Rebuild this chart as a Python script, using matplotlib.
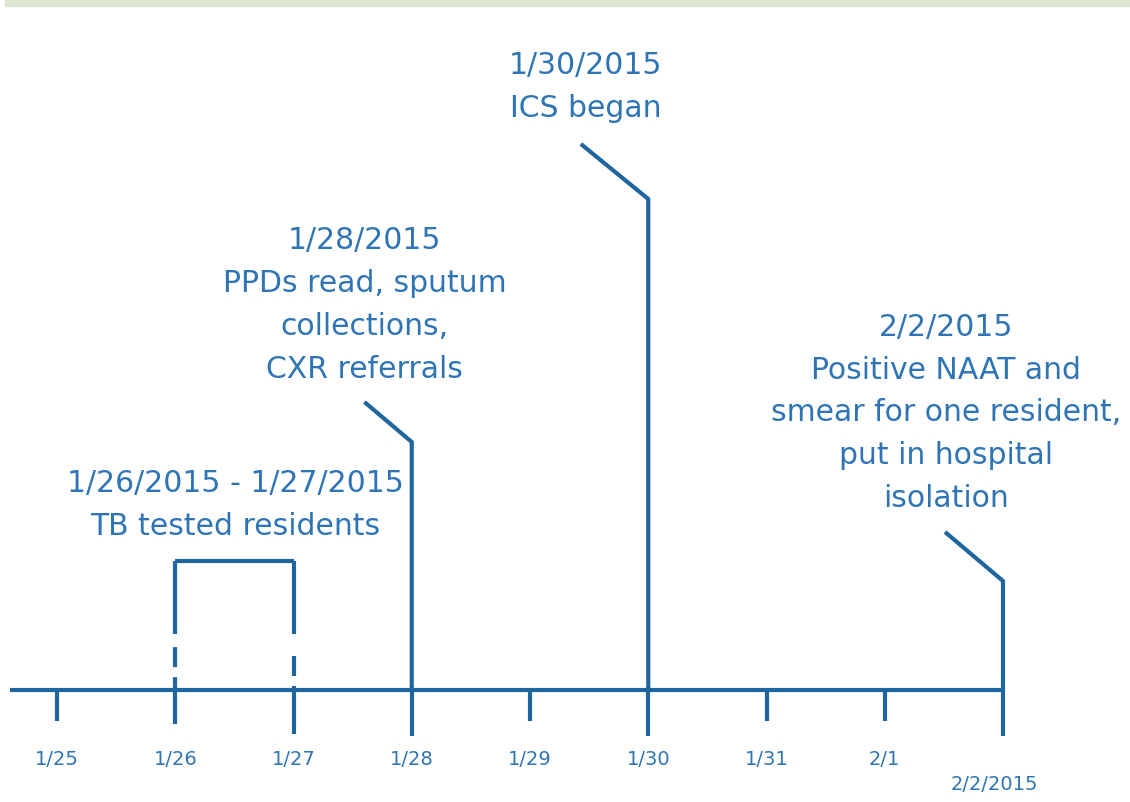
import matplotlib.pyplot as plt
from matplotlib.patches import Rectangle

plt.rcParams['lines.scale_dashes'] = False
plt.rcParams['font.family'] = ['DejaVu Sans']

LINE = '#1f65a0'
TEXT = '#2f74b5'

# timeline days (index 0 = 1/25)
days = ['1/25', '1/26', '1/27', '1/28', '1/29', '1/30', '1/31', '2/1', '2/2/2015']
tick_len = [31, 34, 44, 46, 31, 46, 31, 31, 46]

# events with a leader line
ev_day = [3, 5, 8]
ev_top = [248, 491, 109]
ev_dx = [-0.40, -0.57, -0.49]
ev_end = [288, 546, 158]
ev_text = ['1/28/2015\nPPDs read, sputum\ncollections,\nCXR referrals',
           '1/30/2015\nICS began',
           '2/2/2015\nPositive NAAT and\nsmear for one resident,\nput in hospital\nisolation']
ev_text_x = [2.60, 4.47, 7.52]
ev_text_y = [386, 604, 278]

# bracket for the testing period
br_days = [1, 2]
br_top = 129
br_text = '1/26/2015 - 1/27/2015\nTB tested residents'
br_text_x = 1.51
br_text_y = 186

px = 118.25  # pixels per day
fig = plt.figure(figsize=(11.3, 8.03), dpi=100)
ax = fig.add_axes([0, 0, 1, 1])
ax.set_xlim(-57 / px, (1130 - 57) / px)
ax.set_ylim(-112, 691)
ax.axis('off')

fig.patches.append(Rectangle((5 / 1130, 1 - 7 / 803), 1, 7 / 803,
                             transform=fig.transFigure, color='#dfe6cf', zorder=0))

# main axis line
ax.plot([-0.40, 8], [0, 0], color=LINE, lw=3, solid_capstyle='butt')

# ticks + labels
for i, (lab, tl) in enumerate(zip(days, tick_len)):
    if i in br_days:
        continue
    ax.plot([i, i], [0, -tl], color=LINE, lw=3, solid_capstyle='butt')
    if i == len(days) - 1:
        ax.text(7.93, -94, lab, ha='center', va='center', fontsize=14, color=TEXT)
    else:
        ax.text(i, -69, lab, ha='center', va='center', fontsize=14, color=TEXT)

# bracket (solid top, dashed legs)
dash_patterns = [(0, (52.6, 9.4, 14.4, 7.2, 200, 1)),
                 (0, (52.6, 15.8, 14.4, 7.2, 200, 1))]
for d, ls in zip(br_days, dash_patterns):
    ax.plot([d, d], [br_top, -tick_len[d]], color=LINE, lw=3, linestyle=ls,
            dash_capstyle='butt')
    ax.text(d, -69, days[d], ha='center', va='center', fontsize=14, color=TEXT)
ax.plot(br_days, [br_top, br_top], color=LINE, lw=3, solid_capstyle='butt')
ax.text(br_text_x, br_text_y, br_text, ha='center', va='center', ma='center',
        fontsize=21.5, color=TEXT, linespacing=1.6)

# event leader lines and labels
for d, top, dx, end, txt, tx, ty in zip(ev_day, ev_top, ev_dx, ev_end,
                                        ev_text, ev_text_x, ev_text_y):
    ax.plot([d, d, d + dx], [0, top, end], color=LINE, lw=3,
            solid_capstyle='butt', solid_joinstyle='miter')
    ax.text(tx, ty, txt, ha='center', va='center', ma='center',
            fontsize=21.5, color=TEXT, linespacing=1.6)

plt.savefig('out.png', dpi=100)
